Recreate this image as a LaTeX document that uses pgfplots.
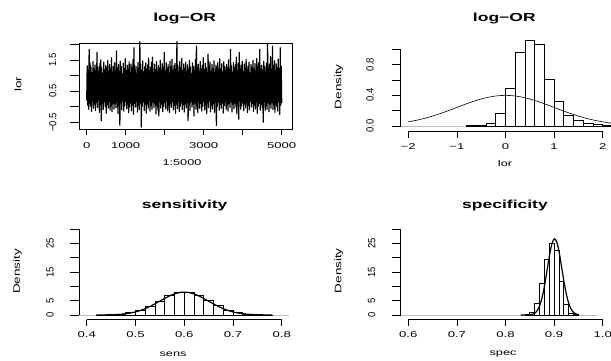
\documentclass[border=0pt]{standalone}
\usepackage{pgfplots}
\usepackage{pgfplotstable}
\pgfplotsset{compat=1.18}
\usepackage{graphicx}
\usepackage{fontspec}
\setmainfont{Liberation Sans}

\newcommand\tk[1]{{\fontsize{8.5}{8.5}\selectfont\scalebox{1.55}[1]{#1}}}
\newcommand\ttl[1]{{\fontsize{11.7}{11.7}\selectfont\bfseries\scalebox{1.5}[1]{#1}}}
\newcommand\lab[1]{{\fontsize{8.5}{8.5}\selectfont\scalebox{1.5}[1]{#1}}}
\newcommand\ylab[1]{{\fontsize{9.5}{9.5}\selectfont\scalebox{1.42}[1]{#1}}}
\newcommand\ytk[1]{{\fontsize{9.5}{9.5}\selectfont\scalebox{1}[1.1]{#1}}}

\pgfplotstableread[header=false]{
0.21
1.32
0.05
1.18
-0.08
1.85
0.12
1.41
0.02
1.27
-0.15
1.09
0.18
1.46
-0.05
1.22
0.09
1.35
-0.12
1.15
0.14
1.75
-0.02
1.28
0.22
1.12
-0.18
1.39
0.07
1.51
-0.45
1.24
0.11
1.08
-0.09
1.44
0.16
1.19
0.01
1.33
-0.21
1.26
0.08
1.49
-0.04
1.14
0.19
1.37
-0.11
1.21
0.04
1.58
-0.16
1.11
0.13
1.30
-0.07
1.42
0.10
1.17
-0.03
1.80
0.15
1.25
-0.22
1.36
0.06
1.13
-0.60
1.47
0.12
1.29
-0.10
1.06
0.20
1.40
-0.14
1.23
0.03
1.55
0.17
1.16
-0.06
1.34
0.09
1.20
-0.19
1.45
0.00
1.10
0.14
1.38
-0.13
1.27
0.05
1.52
-0.24
1.90
0.11
1.19
-0.01
1.31
0.18
1.07
-0.17
1.43
0.08
1.24
-0.09
2.10
0.13
1.36
-0.65
1.18
0.02
1.48
0.16
1.12
-0.12
1.30
0.07
1.41
-0.20
1.22
0.10
1.35
-0.05
1.57
0.19
1.15
-0.14
1.28
0.04
1.44
-0.08
1.60
0.15
1.09
-0.02
1.37
0.12
1.20
-0.23
1.46
0.06
1.13
-0.11
1.33
-0.30
1.25
0.17
1.50
-0.04
1.17
0.09
1.39
-0.16
1.26
0.01
1.75
0.14
1.14
-0.07
1.42
0.20
1.23
-0.13
1.36
0.03
1.08
-0.18
1.47
0.11
1.29
-0.02
1.53
0.16
1.18
-0.10
1.32
0.05
1.40
-0.21
1.21
0.08
2.10
-0.06
1.34
0.18
1.12
-0.15
1.45
0.02
1.27
0.13
1.56
-0.09
1.16
0.07
1.38
-0.17
1.24
0.10
1.43
-0.04
1.11
0.15
1.35
-0.45
1.20
0.06
1.49
-0.12
1.28
0.19
1.07
-0.01
1.41
0.09
1.30
-0.30
1.17
0.12
1.52
-0.08
1.95
0.04
1.25
-0.19
1.37
0.16
1.14
-0.05
1.46
0.11
1.22
-0.14
1.33
0.02
1.58
0.17
1.19
-0.10
1.40
0.07
1.26
-0.22
1.12
0.13
1.70
-0.03
1.31
0.20
1.44
-0.16
1.15
0.05
1.36
-0.07
1.23
0.10
1.48
-0.18
1.09
0.14
1.34
-0.60
1.27
0.01
1.42
0.16
1.18
-0.11
1.55
0.08
1.21
-0.05
1.39
0.12
1.13
-0.20
1.45
0.04
1.29
0.18
1.16
-0.09
1.37
0.06
1.24
-0.14
1.51
0.11
1.20
-0.02
1.85
0.15
1.32
-0.17
1.10
0.09
1.43
-0.06
1.26
0.13
1.35
0.00
1.60
-0.23
1.17
0.07
1.40
-0.40
1.75
0.19
1.22
-0.08
1.34
0.03
1.47
0.16
1.14
-0.13
1.38
0.10
1.25
-0.04
1.53
0.14
1.19
-0.19
1.31
0.05
1.44
-0.10
1.08
0.18
1.36
-0.01
1.27
0.11
1.49
-0.15
1.21
0.06
1.39
-0.07
1.15
0.15
1.56
-0.21
1.28
0.02
1.42
0.12
1.85
-0.11
1.23
0.08
1.34
-0.03
1.18
-0.50
1.46
0.17
1.30
-0.12
1.12
0.04
1.41
-0.08
2.05
0.13
1.25
-0.16
1.37
0.09
1.62
-0.05
1.20
0.14
1.95
-0.09
1.33
0.07
1.48
-0.18
1.16
0.10
1.38
0.01
1.27
-0.14
1.54
0.16
1.22
-0.25
1.90
0.05
1.31
0.12
}\trace

\pgfplotstableread{
x y
-0.8 0.005
-0.6 0.012
-0.4 0.035
-0.2 0.165
0.0 0.49
0.2 0.957
0.4 1.12
0.6 1.057
0.8 0.61
1.0 0.32
1.2 0.143
1.4 0.07
1.6 0.035
1.8 0.02
2.0 0.01
2.2 0
}\lorhist

\pgfplotstableread{
x y
0.42 0.03
0.44 0.1
0.46 0.3
0.48 0.8
0.50 1.7
0.52 2.9
0.54 4.6
0.56 6.8
0.58 7.9
0.60 7.9
0.62 6.9
0.64 5.0
0.66 3.3
0.68 1.7
0.70 0.9
0.72 0.35
0.74 0.1
0.76 0.03
0.78 0
}\senshist

\pgfplotstableread{
x y
0.84 0.3
0.85 0.9
0.86 4.0
0.87 11.0
0.88 19.3
0.89 24.9
0.90 22.4
0.91 11.8
0.92 3.6
0.93 0.6
0.94 0.1
0.95 0
}\spechist

\pgfplotsset{rpanel/.style={scale only axis, anchor=south west, hide axis, clip=false}}

\begin{document}
\begin{tikzpicture}[x=1bp,y=1bp]
\useasboundingbox (0,0) rectangle (611,360);
\fill[white] (0,0) rectangle (611,360);

% gray zero lines
\draw[color={rgb,255:red,190;green,190;blue,190}, line width=0.6bp] (400.7,234) -- (620,234);
\draw[color={rgb,255:red,190;green,190;blue,190}, line width=0.6bp] (79.3,45) -- (289.3,45);
\draw[color={rgb,255:red,190;green,190;blue,190}, line width=0.6bp] (400.7,45) -- (598.3,45);

% ---------- panel 1: trace ----------
\begin{axis}[rpanel, at={(79.3bp,230.7bp)}, width=213.4bp, height=86bp,
  xmin=-190, xmax=5282, ymin=-0.725, ymax=2.045]
\addplot[black, line width=1.2bp, line join=round] table[x expr=\coordindex*12.5, y index=0] {\trace};
\end{axis}
\draw[line width=0.8bp] (79.3,230.7) rectangle (292.7,316.7);
\foreach \x in {86.7,125.7,164.7,203.7,242.7,281.7} \draw[line width=0.8bp] (\x,230.7) -- (\x,224.7);
\foreach \y in {237.7,253.2,268.7,284.2,299.8,315.3} \draw[line width=0.8bp] (79.3,\y) -- (70.3,\y);
\node at (86.7,214.3) {\tk{0}};
\node at (125.7,214.3) {\tk{1000}};
\node at (203.7,214.3) {\tk{3000}};
\node at (281.7,214.3) {\tk{5000}};
\node[rotate=90] at (52.7,237.7) {\ytk{−0.5}};
\node[rotate=90] at (52.7,268.7) {\ytk{0.5}};
\node[rotate=90] at (52.7,299.8) {\ytk{1.5}};
\node[anchor=base] at (184.7,339) {\ttl{log−OR}};
\node at (182,197) {\lab{1:5000}};
\node[rotate=90] at (18,276) {\ylab{lor}};

% ---------- panel 2: log-OR histogram ----------
\begin{axis}[rpanel, at={(400.7bp,228.3bp)}, width=220bp, height=95.1bp,
  xmin=-2.156, xmax=2.37, ymin=-0.0743, ymax=1.165]
\addplot[ybar interval, draw=black, fill=none, line width=0.8bp] table[x=x,y=y] {\lorhist};
\addplot[black, line width=0.6bp, smooth] coordinates {
(-2.0,0.0540) (-1.8,0.0790) (-1.6,0.1109) (-1.4,0.1497) (-1.2,0.1942) (-1.0,0.2420)
(-0.8,0.2897) (-0.6,0.3332) (-0.4,0.3683) (-0.2,0.3910) (0.0,0.3989) (0.2,0.3910)
(0.4,0.3683) (0.6,0.3332) (0.8,0.2897) (1.0,0.2420) (1.2,0.1942) (1.4,0.1497)
(1.6,0.1109) (1.8,0.0790) (2.0,0.0540) (2.2,0.0355) (2.4,0.0224)};
\end{axis}
\draw[line width=0.8bp] (400.7,234) -- (400.7,310.7);
\foreach \y in {234,249.3,264.7,280,295.4,310.7} \draw[line width=0.8bp] (400.7,\y) -- (391.7,\y);
\draw[line width=0.8bp] (408.3,228.3) -- (602.7,228.3);
\foreach \x in {408.3,456.9,505.5,554.1,602.7} \draw[line width=0.8bp] (\x,228.3) -- (\x,222.3);
\node at (408.3,213.3) {\tk{−2}};
\node at (456.9,213.3) {\tk{−1}};
\node at (505.5,213.3) {\tk{0}};
\node at (554.1,213.3) {\tk{1}};
\node at (602.7,213.3) {\tk{2}};
\node[rotate=90] at (370,234) {\ytk{0.0}};
\node[rotate=90] at (370,264.7) {\ytk{0.4}};
\node[rotate=90] at (370,295.4) {\ytk{0.8}};
\node[anchor=base] at (504.3,339) {\ttl{log−OR}};
\node at (505,197) {\lab{lor}};
\node[rotate=90] at (338.8,273.3) {\ylab{Density}};

% ---------- panel 3: sensitivity ----------
\begin{axis}[rpanel, at={(79.3bp,40.5bp)}, width=210bp, height=93.95bp,
  xmin=0.3848, xmax=0.8156, ymin=-1.57, ymax=31.2]
\addplot[ybar interval, draw=black, fill=none, line width=0.8bp] table[x=x,y=y] {\senshist};
\addplot[black, line width=1.2bp, smooth] coordinates {
(0.42,0.012) (0.43,0.025) (0.44,0.048) (0.45,0.089) (0.46,0.158) (0.47,0.272)
(0.48,0.448) (0.49,0.709) (0.50,1.080) (0.51,1.579) (0.52,2.218) (0.53,2.995)
(0.54,3.884) (0.55,4.839) (0.56,5.794) (0.57,6.664) (0.58,7.365) (0.59,7.821)
(0.60,7.979) (0.61,7.821) (0.62,7.365) (0.63,6.664) (0.64,5.794) (0.65,4.839)
(0.66,3.884) (0.67,2.995) (0.68,2.218) (0.69,1.579) (0.70,1.080) (0.71,0.709)
(0.72,0.448) (0.73,0.272) (0.74,0.158) (0.75,0.089) (0.76,0.048) (0.77,0.025)
(0.78,0.012)};
\end{axis}
\draw[line width=0.8bp] (79.3,45) -- (79.3,131);
\foreach \y in {45,59.3,73.7,88,102.3,116.7,131} \draw[line width=0.8bp] (79.3,\y) -- (70.3,\y);
\draw[line width=0.8bp] (86.7,40.5) -- (281.7,40.5);
\foreach \x in {86.7,135.45,184.2,232.95,281.7} \draw[line width=0.8bp] (\x,40.5) -- (\x,34.5);
\node at (86.7,25.7) {\tk{0.4}};
\node at (135.45,25.7) {\tk{0.5}};
\node at (184.2,25.7) {\tk{0.6}};
\node at (232.95,25.7) {\tk{0.7}};
\node at (281.7,25.7) {\tk{0.8}};
\node[rotate=90] at (50,45) {\ytk{0}};
\node[rotate=90] at (50,59.3) {\ytk{5}};
\node[rotate=90] at (50,88) {\ytk{15}};
\node[rotate=90] at (50,116.7) {\ytk{25}};
\node[anchor=base] at (184.7,151.7) {\ttl{sensitivity}};
\node at (173,6) {\lab{sens}};
\node[rotate=90] at (17.5,88.7) {\ylab{Density}};

% ---------- panel 4: specificity ----------
\begin{axis}[rpanel, at={(400.7bp,40.5bp)}, width=209.6bp, height=93.95bp,
  xmin=0.5844, xmax=1.0156, ymin=-1.57, ymax=31.2]
\addplot[ybar interval, draw=black, fill=none, line width=0.8bp] table[x=x,y=y] {\spechist};
\addplot[black, line width=1.2bp, smooth] coordinates {
(0.831,0.0005) (0.836,0.0022) (0.841,0.0089) (0.846,0.032) (0.851,0.103)
(0.856,0.295) (0.861,0.758) (0.866,1.748) (0.871,3.60) (0.876,6.63)
(0.881,10.93) (0.886,16.13) (0.891,21.30) (0.896,25.16) (0.901,26.60)
(0.906,25.16) (0.911,21.30) (0.916,16.13) (0.921,10.93) (0.926,6.63)
(0.931,3.60) (0.936,1.748) (0.941,0.758) (0.946,0.295) (0.951,0.103)};
\end{axis}
\draw[line width=0.8bp] (400.7,45) -- (400.7,131);
\foreach \y in {45,59.3,73.7,88,102.3,116.7,131} \draw[line width=0.8bp] (400.7,\y) -- (391.7,\y);
\draw[line width=0.8bp] (408.3,40.5) -- (602.7,40.5);
\foreach \x in {408.3,456.9,505.5,554.1,602.7} \draw[line width=0.8bp] (\x,40.5) -- (\x,34.5);
\node at (408.3,25.7) {\tk{0.6}};
\node at (456.9,25.7) {\tk{0.7}};
\node at (505.5,25.7) {\tk{0.8}};
\node at (554.1,25.7) {\tk{0.9}};
\node at (602.7,25.7) {\tk{1.0}};
\node[rotate=90] at (371.7,45) {\ytk{0}};
\node[rotate=90] at (371.7,59.3) {\ytk{5}};
\node[rotate=90] at (371.7,88) {\ytk{15}};
\node[rotate=90] at (371.7,116.7) {\ytk{25}};
\node[anchor=base] at (505,151.7) {\ttl{specificity}};
\node at (503,6) {\lab{spec}};
\node[rotate=90] at (338.8,89.3) {\ylab{Density}};
\end{tikzpicture}
\end{document}
